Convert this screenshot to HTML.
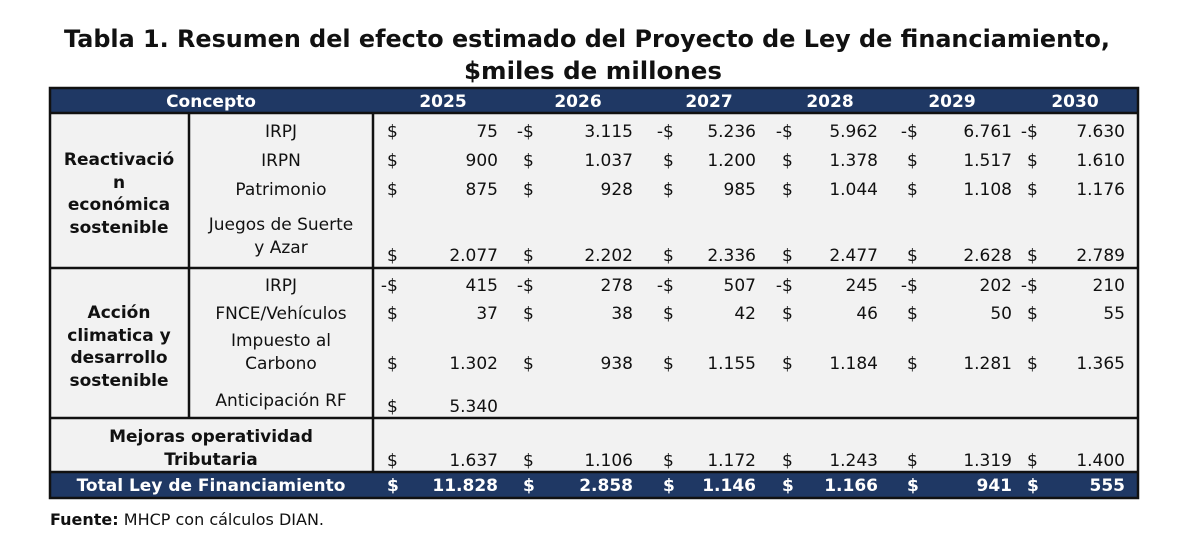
<!DOCTYPE html>
<html><head><meta charset="utf-8">
<style>
html,body{margin:0;padding:0;background:#fff;}
svg{display:block;font-family:"DejaVu Sans","Liberation Sans",sans-serif;}
</style></head>
<body>
<svg id="tbl" width="1200" height="538" viewBox="0 0 1200 538" xmlns="http://www.w3.org/2000/svg">
  <text x="587" y="47" text-anchor="middle" font-size="24" font-weight="bold" fill="#111" textLength="1046" lengthAdjust="spacingAndGlyphs">Tabla 1. Resumen del efecto estimado del Proyecto de Ley de financiamiento,</text>
  <text x="593" y="79" text-anchor="middle" font-size="24" font-weight="bold" fill="#111" textLength="258" lengthAdjust="spacingAndGlyphs">$miles de millones</text>
  <rect x="50" y="113" width="1088" height="360" fill="#f2f2f2"/>
  <rect x="50" y="88" width="1088" height="25" fill="#1f3864"/>
  <rect x="50" y="472" width="1088" height="26" fill="#1f3864"/>
  <g id="lines" stroke="#111" stroke-width="2.5" fill="none">
    <rect x="50" y="88" width="1088" height="410"/>
    <line x1="50" y1="113" x2="1138" y2="113"/>
    <line x1="50" y1="268" x2="1138" y2="268"/>
    <line x1="50" y1="418" x2="1138" y2="418"/>
    <line x1="50" y1="472" x2="1138" y2="472"/>
    <line x1="189" y1="113" x2="189" y2="418"/>
    <line x1="373" y1="113" x2="373" y2="472"/>
  </g>
  <g id="hdr" font-weight="bold" font-size="17" fill="#fff" text-anchor="middle">
    <text x="211" y="107">Concepto</text>
  </g>
  <g id="labels" font-size="17" fill="#111" text-anchor="middle">
    <text font-weight="bold" x="119"><tspan x="119" y="165">Reactivació</tspan><tspan x="119" y="188">n</tspan><tspan x="119" y="210">económica</tspan><tspan x="119" y="233">sostenible</tspan></text>
    <text font-weight="bold"><tspan x="119" y="318">Acción</tspan><tspan x="119" y="341">climatica y</tspan><tspan x="119" y="363">desarrollo</tspan><tspan x="119" y="386">sostenible</tspan></text>
    <text font-weight="bold"><tspan x="211" y="442">Mejoras operatividad</tspan><tspan x="211" y="465">Tributaria</tspan></text>
    <text font-weight="bold" fill="#fff" x="211" y="491">Total Ley de Financiamiento</text>
    <text x="281" y="137">IRPJ</text>
    <text x="281" y="166">IRPN</text>
    <text x="281" y="195">Patrimonio</text>
    <text><tspan x="281" y="230">Juegos de Suerte</tspan><tspan x="281" y="253">y Azar</tspan></text>
    <text x="281" y="291">IRPJ</text>
    <text x="281" y="319">FNCE/Vehículos</text>
    <text><tspan x="281" y="346">Impuesto al</tspan><tspan x="281" y="369">Carbono</tspan></text>
    <text x="281" y="406">Anticipación RF</text>
  </g>
  <g id="cells" font-size="17" fill="#111"></g>
  <text x="50" y="525" font-size="16" fill="#111"><tspan font-weight="bold">Fuente:</tspan> MHCP con cálculos DIAN.</text>
</svg>
<script>
const years = ["2025","2026","2027","2028","2029","2030"];
const irpj1 = [75,-3115,-5236,-5962,-6761,-7630];
const irpn = [900,1037,1200,1378,1517,1610];
const patrimonio = [875,928,985,1044,1108,1176];
const juegos = [2077,2202,2336,2477,2628,2789];
const irpj2 = [-415,-278,-507,-245,-202,-210];
const fnce = [37,38,42,46,50,55];
const carbono = [1302,938,1155,1184,1281,1365];
const anticipacion = [5340];
const mejoras = [1637,1106,1172,1243,1319,1400];
const total = [11828,2858,1146,1166,941,555];

const NS = "http://www.w3.org/2000/svg";
const dollarX = [387,523,663,782,907,1027];
const valueX = [498,633,756,878,1012,1125];
const yearX = [443,578,709,830,952,1075];
const cells = document.getElementById('cells');
const hdr = document.getElementById('hdr');
function fmt(v){return Math.abs(v).toString().replace(/\B(?=(\d{3})+(?!\d))/g,".");}
function txt(parent,x,y,s,anchor,extra){
  const t=document.createElementNS(NS,'text');
  t.setAttribute('x',x);t.setAttribute('y',y);
  if(anchor)t.setAttribute('text-anchor',anchor);
  if(extra)for(const k in extra)t.setAttribute(k,extra[k]);
  t.textContent=s;parent.appendChild(t);return t;
}
years.forEach((yr,i)=>{
  const t=txt(hdr,yearX[i],107,yr,'middle');
  
  
});
const rows=[[irpj1,137,'irpj-1'],[irpn,166,'irpn'],[patrimonio,195,'patrimonio'],[juegos,261,'juegos'],
  [irpj2,291,'irpj-2'],[fnce,319,'fnce'],[carbono,369,'carbono'],[anticipacion,412,'anticipacion'],[mejoras,466,'mejoras'],[total,491,'total']];
rows.forEach(([arr,y,name])=>{
  const bold = name==='total';
  const ex = bold?{'font-weight':'bold','fill':'#fff'}:null;
  arr.forEach((v,i)=>{
    const d=txt(cells,dollarX[i],y,'$',null,ex);
    
    
    if(v<0){
      const m=txt(cells,dollarX[i],y,'-','end',ex);
      
      
    }
    const c=txt(cells,valueX[i],y,fmt(v),'end',ex);
    
    
  });
});
</script>
</body></html>
